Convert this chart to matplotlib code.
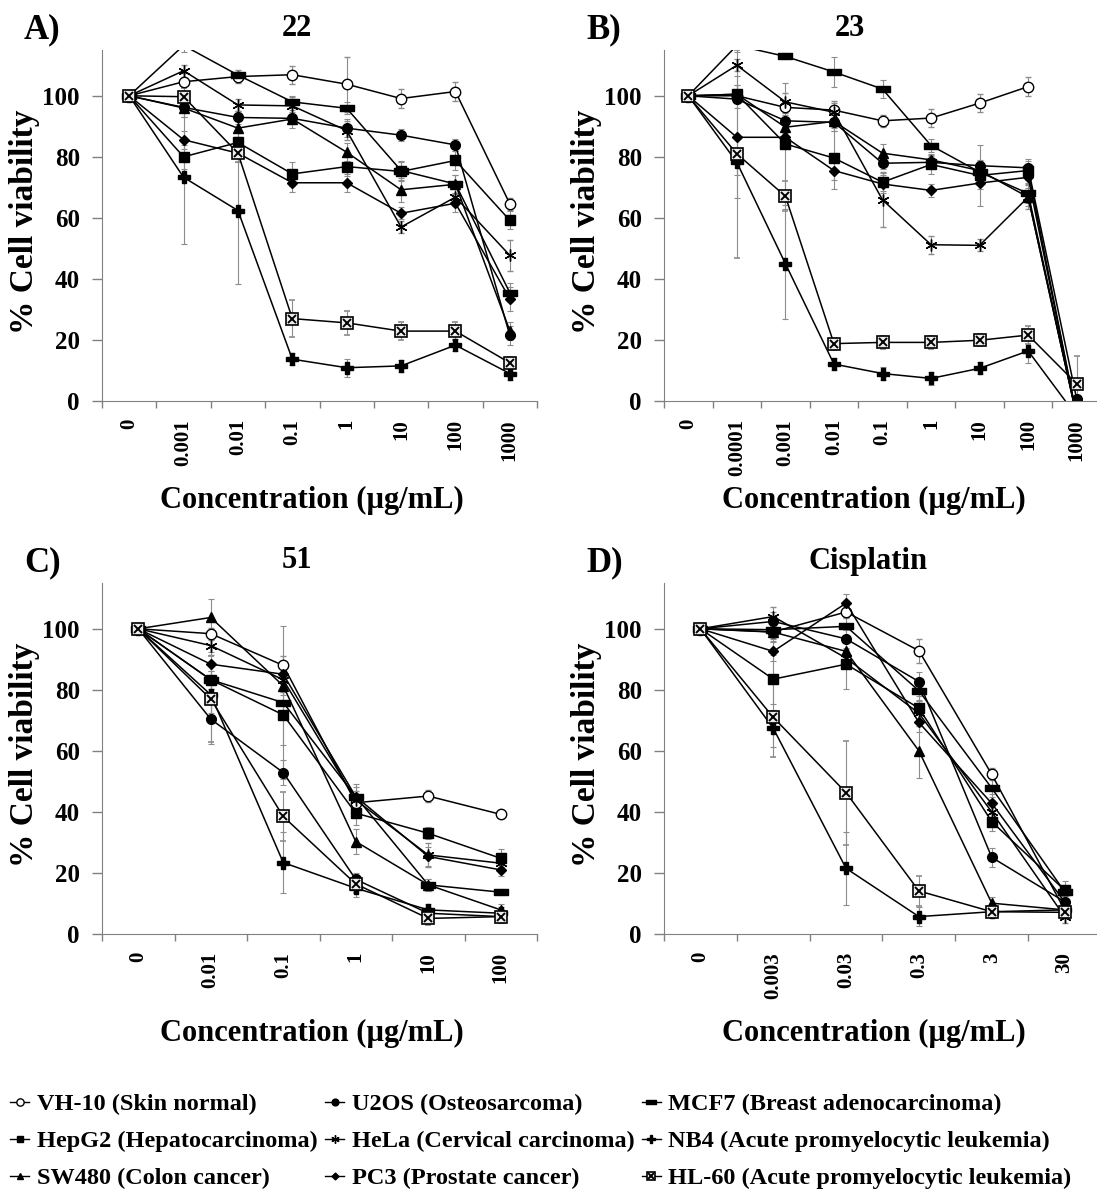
import numpy as np
import matplotlib
matplotlib.use('Agg')
import matplotlib.pyplot as plt
from matplotlib.lines import Line2D
from matplotlib.path import Path

plt.rcParams['font.family'] = ['Liberation Serif', 'DejaVu Serif']
plt.rcParams['font.weight'] = 'bold'

nan = np.nan

# cell lines, in the order they are drawn
LINES = ['VH-10', 'U2OS', 'MCF7', 'HepG2', 'SW480', 'HeLa', 'PC3', 'NB4', 'HL-60']
LABELS = {
    'VH-10': 'VH-10 (Skin normal)',
    'U2OS': 'U2OS (Osteosarcoma)',
    'MCF7': 'MCF7 (Breast adenocarcinoma)',
    'HepG2': 'HepG2 (Hepatocarcinoma)',
    'SW480': 'SW480 (Colon cancer)',
    'HeLa': 'HeLa (Cervical carcinoma)',
    'PC3': 'PC3 (Prostate cancer)',
    'NB4': 'NB4 (Acute promyelocytic leukemia)',
    'HL-60': 'HL-60 (Acute promyelocytic leukemia)',
}

# ---- compound 22 ----
cats_22 = ['0', '0.001', '0.01', '0.1', '1', '10', '100', '1000']
viab_22 = {
    'VH-10': [100, 104.6, 106.3, 106.9, 103.8, 99.1, 101.4, 64.6],
    'U2OS':  [100, 96.2, 92.9, 92.6, 89.4, 87.1, 83.9, 21.5],
    'MCF7':  [100, 116.5, 106.8, 98.0, 95.9, 75.5, 71.1, 35.5],
    'HepG2': [100, 80.0, 84.7, 74.4, 76.8, 75.2, 78.8, 59.2],
    'SW480': [100, 96.0, 89.4, 92.4, 81.5, 69.2, 71.0, 23.0],
    'HeLa':  [100, 108.2, 97.0, 96.7, 88.6, 57.0, 66.8, 47.7],
    'PC3':   [100, 85.6, 81.2, 71.5, 71.5, 61.5, 64.8, 33.5],
    'NB4':   [100, 73.3, 62.4, 13.7, 10.9, 11.5, 18.3, 9.0],
    'HL-60': [100, 99.7, 81.2, 27.0, 25.6, 22.9, 22.9, 12.5],
}
err_22 = {
    'VH-10': [0, 3, 2, 3, 9, 3, 3, 2],
    'U2OS':  [0, 3, 2, 2, 3, 2, 2, 3],
    'MCF7':  [0, 2, 1, 2, 2, 3, 3, 3],
    'HepG2': [0, 4, 3, 4, 3, 3, 3, 3],
    'SW480': [0, 3, 3, 3, 3, 4, 3, 3],
    'HeLa':  [0, 2, 2, 3, 3, 2, 3, 5],
    'PC3':   [0, 3, 3, 3, 3, 2, 3, 4],
    'NB4':   [0, 22, 24, 2, 3, 2, 2, 2],
    'HL-60': [0, 3, 3, 6, 4, 3, 3, 2],
}

# ---- compound 23 ----
cats_23 = ['0', '0.0001', '0.001', '0.01', '0.1', '1', '10', '100', '1000']
viab_23 = {
    'VH-10': [100, 100.0, 96.2, 95.3, 91.8, 92.7, 97.6, 103.0, nan],
    'U2OS':  [100, 98.9, 91.8, 91.3, 77.9, 78.2, 77.1, 76.4, 0.6],
    'MCF7':  [100, 116.5, 112.9, 107.8, 102.2, 83.7, 75.0, 68.0, -5],
    'HepG2': [100, 100.5, 84.2, 79.6, 71.7, 77.5, 73.9, 75.5, -5],
    'SW480': [100, 100.5, 89.7, 91.6, 81.2, 79.0, 75.5, 66.8, -5],
    'HeLa':  [100, 110.0, 98.0, 94.6, 65.9, 51.2, 51.0, 66.8, -5],
    'PC3':   [100, 86.4, 86.4, 75.5, 71.1, 69.0, 71.4, 73.3, -5],
    'NB4':   [100, 78.2, 45.0, 12.1, 9.0, 7.4, 10.7, 16.4, -5],
    'HL-60': [100, 81.0, 67.1, 18.8, 19.2, 19.2, 19.9, 21.6, 5.6],
}
err_23 = {
    'VH-10': [0, 2, 2, 3, 2, 3, 3, 3, nan],
    'U2OS':  [0, 3, 2, 3, 2, 2, 2, 3, 1],
    'MCF7':  [0, 2, 1, 5, 3, 2, 3, 3, 0],
    'HepG2': [0, 3, 20, 10, 3, 3, 10, 3, 0],
    'SW480': [0, 3, 2, 3, 3, 2, 3, 3, 0],
    'HeLa':  [0, 2, 3, 3, 9, 3, 2, 4, 0],
    'PC3':   [0, 20, 3, 3, 3, 2, 2, 2, 0],
    'NB4':   [0, 4, 18, 2, 2, 2, 2, 4, 0],
    'HL-60': [0, 34, 5, 2, 2, 2, 2, 3, 9],
}

# ---- compound 51 ----
cats_51 = ['0', '0.01', '0.1', '1', '10', '100']
viab_51 = {
    'VH-10': [100, 98.4, 88.0, 43.0, 45.2, 39.2],
    'U2OS':  [100, 70.4, 52.9, 17.9, 6.8, 5.7],
    'MCF7':  [100, 83.3, 75.8, 45.0, 16.1, 13.7],
    'HepG2': [100, 83.3, 71.8, 39.6, 33.0, 24.8],
    'SW480': [100, 103.7, 81.3, 30.3, 16.1, 7.9],
    'HeLa':  [100, 94.5, 83.3, 43.9, 25.9, 23.2],
    'PC3':   [100, 88.4, 85.1, 45.0, 25.4, 21.0],
    'NB4':   [100, 78.4, 23.4, 15.0, 7.9, 6.8],
    'HL-60': [100, 77.0, 38.5, 16.4, 5.1, 5.7],
}
err_51 = {
    'VH-10': [0, 2, 3, 2, 2, 1],
    'U2OS':  [0, 8, 4, 2, 2, 2],
    'MCF7':  [0, 3, 25, 4, 2, 1],
    'HepG2': [0, 3, 10, 4, 2, 3],
    'SW480': [0, 6, 3, 4, 2, 2],
    'HeLa':  [0, 3, 4, 3, 4, 3],
    'PC3':   [0, 4, 3, 3, 3, 2],
    'NB4':   [0, 6, 10, 3, 2, 2],
    'HL-60': [0, 14, 8, 3, 2, 2],
}

# ---- cisplatin ----
cats_cis = ['0', '0.003', '0.03', '0.3', '3', '30']
viab_cis = {
    'VH-10': [100, 99.0, 105.5, 92.8, 52.3, 7.9],
    'U2OS':  [100, 102.4, 96.7, 82.7, 25.1, 10.6],
    'MCF7':  [100, 99.7, 100.8, 79.7, 47.8, 13.9],
    'HepG2': [100, 83.5, 88.4, 74.0, 36.8, 14.4],
    'SW480': [100, 98.9, 92.6, 60.0, 10.1, 7.9],
    'HeLa':  [100, 104.0, 90.4, 72.3, 40.0, 5.7],
    'PC3':   [100, 92.6, 108.4, 69.3, 42.8, 10.5],
    'NB4':   [100, 67.4, 21.5, 5.7, 7.3, 7.9],
    'HL-60': [100, 71.0, 46.3, 14.1, 7.3, 7.1],
}
err_cis = {
    'VH-10': [0, 2, 2, 4, 2, 2],
    'U2OS':  [0, 3, 3, 3, 3, 2],
    'MCF7':  [0, 3, 3, 3, 3, 2],
    'HepG2': [0, 8, 8, 4, 3, 3],
    'SW480': [0, 3, 3, 9, 2, 2],
    'HeLa':  [0, 3, 3, 4, 4, 2],
    'PC3':   [0, 3, 3, 3, 3, 2],
    'NB4':   [0, 6, 12, 3, 2, 2],
    'HL-60': [0, 13, 17, 5, 2, 2],
}

# thick horizontal bar marker for MCF7
dash = Path([(-1, -0.38), (1, -0.38), (1, 0.38), (-1, 0.38), (-1, -0.38)],
            [Path.MOVETO, Path.LINETO, Path.LINETO, Path.LINETO, Path.CLOSEPOLY])

STYLE = {
    'VH-10': dict(marker='o', ms=7.5, mfc='white', mew=1.0),
    'U2OS':  dict(marker='o', ms=7, mfc='black'),
    'MCF7':  dict(marker=dash, ms=10.5, mfc='black'),
    'HepG2': dict(marker='s', ms=6.5, mfc='black'),
    'SW480': dict(marker='^', ms=7, mfc='black'),
    'HeLa':  dict(marker=(6, 2, 0), ms=8.5, mew=1.0),
    'PC3':   dict(marker='D', ms=5, mfc='black'),
    'NB4':   dict(marker='P', ms=8, mfc='black'),
    'HL-60': dict(marker='s', ms=8, mfc='#eeeeee', mew=1.2),
}
XMARK = dict(ls='none', marker='x', ms=6, mew=1.4, color='black', zorder=3)

W, H = 1097, 1198
GRAY = '#808080'


def fx(px):
    return px / W


def fy(py):
    return 1 - py / H


def draw_panel(ax, cats, viab, err):
    x = np.arange(len(cats))
    for name in LINES:
        ax.errorbar(x, viab[name], yerr=err[name], color='black', lw=1.1,
                    mec='black', ecolor='#8c8c8c', elinewidth=0.8,
                    capsize=2.5, capthick=0.8, **STYLE[name])
        if name == 'HL-60':
            ax.plot(x, viab[name], **XMARK)
    n = len(cats)
    ax.set_xlim(-0.5, n - 0.5)
    ax.set_ylim(0, 115)
    ax.set_yticks(range(0, 101, 20))
    ax.set_xticks(x)
    ax.set_xticklabels(cats, rotation=90)
    ax.set_xticks(np.arange(n + 1) - 0.5, minor=True)
    ax.tick_params(axis='x', which='major', length=0, pad=13, labelsize=15)
    ax.tick_params(axis='x', which='minor', length=5, color=GRAY, width=1)
    ax.tick_params(axis='y', length=7, color=GRAY, width=1, pad=9, labelsize=18)
    for s in ['top', 'right']:
        ax.spines[s].set_visible(False)
    for s in ['left', 'bottom']:
        ax.spines[s].set_color(GRAY)


fig = plt.figure(figsize=(W / 100, H / 100), dpi=100)

panels = [
    ([102, 401, 435], cats_22, viab_22, err_22, 'A)', '22', 297),
    ([664, 401, 437], cats_23, viab_23, err_23, 'B)', '23', 850),
    ([102, 934, 435], cats_51, viab_51, err_51, 'C)', '51', 297),
    ([664, 934, 437], cats_cis, viab_cis, err_cis, 'D)', 'Cisplatin', 868),
]

for (left, bottom, width), cats, viab, err, tag, title, tx in panels:
    ax = fig.add_axes([fx(left), fy(bottom), width / W, 351 / H])
    draw_panel(ax, cats, viab, err)
    top = bottom - 351
    fig.text(fx(left - 78), fy(top - 20), tag, fontsize=25, ha='left', va='center')
    fig.text(fx(tx), fy(top - 22), title, fontsize=22, ha='center', va='center')
    fig.text(fx(left - 77), fy(top + 172), '% Cell viability', fontsize=24,
             rotation=90, ha='center', va='center')
    fig.text(fx(left + 210), fy(bottom + 99), 'Concentration (µg/mL)', fontsize=22,
             ha='center', va='center')

# legend, filled column by column
order = ['VH-10', 'HepG2', 'SW480', 'U2OS', 'HeLa', 'PC3', 'MCF7', 'NB4', 'HL-60']
handles = []
for name in order:
    h = Line2D([0], [0], color='black', lw=1.0, mec='black', **STYLE[name])
    if name == 'HL-60':
        h = (h, Line2D([0], [0], **XMARK))
    handles.append(h)
fig.legend(handles, [LABELS[n] for n in order], ncol=3, loc='upper left',
           bbox_to_anchor=(fx(10), fy(1093)), frameon=False, fontsize=17.5,
           handlelength=0.8, handletextpad=0.3, columnspacing=0.3,
           labelspacing=0.62, borderpad=0, borderaxespad=0, markerscale=0.7)

fig.savefig('out.png', dpi=100)
